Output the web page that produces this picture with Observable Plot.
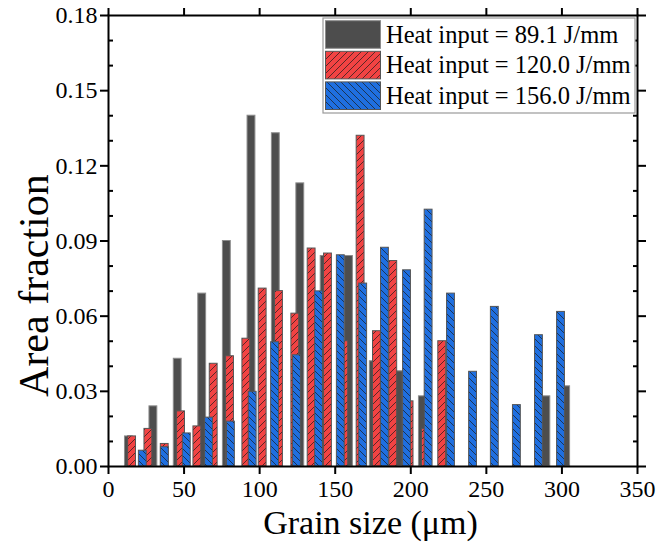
<!DOCTYPE html>
<html><head><meta charset="utf-8">
<script src="https://cdn.jsdelivr.net/npm/d3@7"></script>
<script src="https://cdn.jsdelivr.net/npm/@observablehq/plot@0.6"></script>
<style>
body{margin:0;background:#fff;}
#chart{width:656px;height:547px;}
</style>
</head><body><div id="chart"></div>
<script>
// ---- data ----
const seriesNames = ["Heat input = 89.1 J/mm", "Heat input = 120.0 J/mm", "Heat input = 156.0 J/mm"];

const greyX = [13.5, 29.7, 45.8, 62.0, 78.3, 94.6, 110.7, 126.9, 143.0, 159.1, 175.5, 192.2, 208.0, 223.5, 289.7, 302.8];
const greyY = [0.012, 0.024, 0.043, 0.069, 0.090, 0.140, 0.133, 0.113, 0.084, 0.084, 0.042, 0.038, 0.028, 0.034, 0.028, 0.032];

const redX = [15.6, 26.4, 37.2, 48.0, 58.8, 69.6, 80.4, 91.2, 102.0, 112.8, 123.6, 134.4, 145.2, 156.0, 166.8, 177.6, 188.4, 199.2, 210.0, 220.8];
const redY = [0.012, 0.015, 0.009, 0.022, 0.016, 0.041, 0.044, 0.051, 0.071, 0.070, 0.061, 0.087, 0.085, 0.050, 0.132, 0.054, 0.082, 0.026, 0.015, 0.050];

const blueX = [22.7, 37.3, 51.8, 66.5, 81.0, 95.4, 110.2, 124.7, 139.3, 153.7, 168.5, 182.9, 197.5, 211.8, 226.6, 241.2, 255.6, 270.2, 284.8, 299.4];
const blueY = [0.0063, 0.0077, 0.0132, 0.0195, 0.0179, 0.0298, 0.0496, 0.0444, 0.0699, 0.0843, 0.073, 0.0873, 0.0783, 0.1025, 0.069, 0.0378, 0.0637, 0.0245, 0.0524, 0.0617];

const xTicks = [0, 50, 100, 150, 200, 250, 300, 350];
const yTicks = [0, 0.03, 0.06, 0.09, 0.12, 0.15, 0.18];
const yMinorTicks = [0.01, 0.02, 0.04, 0.05, 0.07, 0.08, 0.10, 0.11, 0.13, 0.14, 0.16, 0.17];

const xLabel = "Grain size (μm)";
const yLabel = "Area fraction";

// ---- style ----
const binWidth = 5.2;
const colors = {grey: "#4d4d4d", red: "#f24343", blue: "#1f6fe0"};
const fills = [colors.grey, "url(#hatchRed)", "url(#hatchBlue)"];
const FONT = "'Liberation Serif', 'Times New Roman', serif";

function bars(xs, ys) {
  return xs.map((x, i) => ({x1: x - binWidth / 2, x2: x + binWidth / 2, y: ys[i]}));
}

const axisCommon = {label: null, strokeWidth: 2, stroke: "#000"};

const plot = Plot.plot({
  width: 656,
  height: 547,
  marginLeft: 108,
  marginRight: 19,
  marginTop: 15,
  marginBottom: 81,
  style: {fontFamily: FONT, fontSize: "24px", color: "#000", background: "#fff", overflow: "visible"},
  x: {domain: [0, 350], label: null},
  y: {domain: [0, 0.18], label: null},
  marks: [
    Plot.rectY(bars(greyX, greyY), {x1: "x1", x2: "x2", y: "y", fill: fills[0], stroke: "#8c8c8c", strokeWidth: 1}),
    Plot.rectY(bars(redX, redY), {x1: "x1", x2: "x2", y: "y", fill: fills[1], stroke: "#555", strokeWidth: 1}),
    Plot.rectY(bars(blueX, blueY), {x1: "x1", x2: "x2", y: "y", fill: fills[2], stroke: "#555", strokeWidth: 1}),
    Plot.frame({stroke: "#000", strokeWidth: 2}),
    Plot.axisX(xTicks, {...axisCommon, anchor: "bottom", tickSize: 8, tickPadding: 5, fontSize: 24, tickFormat: d => String(d)}),
    Plot.axisX(xTicks, {...axisCommon, anchor: "top", tickSize: 8, fill: "none"}),
    Plot.axisY(yTicks, {...axisCommon, anchor: "left", tickSize: 8, tickPadding: 3, fontSize: 24, tickFormat: d => d.toFixed(2)}),
    Plot.axisY(yMinorTicks, {...axisCommon, anchor: "left", tickSize: 5, dx: 5, fill: "none"}),
    Plot.axisY(yTicks, {...axisCommon, anchor: "right", tickSize: 8, fill: "none"}),
    Plot.axisY(yMinorTicks, {...axisCommon, anchor: "right", tickSize: 5, dx: -5, fill: "none"})
  ]
});

const svg = d3.select(plot);
const sx = plot.scale("x"), sy = plot.scale("y");

// hatch patterns
const defs = svg.insert("defs", ":first-child");
function hatch(id, bg, d) {
  const p = defs.append("pattern").attr("id", id).attr("patternUnits", "userSpaceOnUse")
    .attr("width", 7).attr("height", 7);
  p.append("rect").attr("width", 7).attr("height", 7).attr("fill", bg);
  p.append("path").attr("d", d).attr("stroke", "#1a1a1a").attr("stroke-width", 0.7).attr("fill", "none");
}
hatch("hatchRed", colors.red, "M0,7L7,0M-1,1L1,-1M6,8L8,6");
hatch("hatchBlue", colors.blue, "M0,0L7,7M-1,6L1,8M6,-1L8,1");

// axis titles
const xMid = (sx.apply(0) + sx.apply(350)) / 2;
svg.append("text").attr("x", xMid - 2).attr("y", 534)
  .attr("text-anchor", "middle").attr("font-family", FONT).attr("font-size", 34).attr("fill", "#000")
  .text(xLabel);
svg.append("text").attr("transform", `translate(48,${sy.apply(0.072)}) rotate(-90)`)
  .attr("text-anchor", "middle").attr("font-family", FONT).attr("font-size", 42).attr("fill", "#000")
  .text(yLabel);

// legend
const lg = svg.append("g").attr("font-family", FONT).attr("font-size", 24.5).attr("text-anchor", "start");
lg.append("rect").attr("x", 323).attr("y", 18).attr("width", 312).attr("height", 95)
  .attr("fill", "#fff").attr("stroke", "#9a9a9a").attr("stroke-width", 1.2);
seriesNames.forEach((name, i) => {
  const y0 = 20.7 + i * 30.6;
  lg.append("rect").attr("x", 325.5).attr("y", y0).attr("width", 55).attr("height", 27.6)
    .attr("fill", fills[i]).attr("stroke", i === 0 ? "#8c8c8c" : "#555").attr("stroke-width", 1);
  lg.append("text").attr("x", 386).attr("y", y0 + 22).attr("fill", "#000").text(name);
});

document.getElementById("chart").appendChild(plot);
</script>
</body></html>
